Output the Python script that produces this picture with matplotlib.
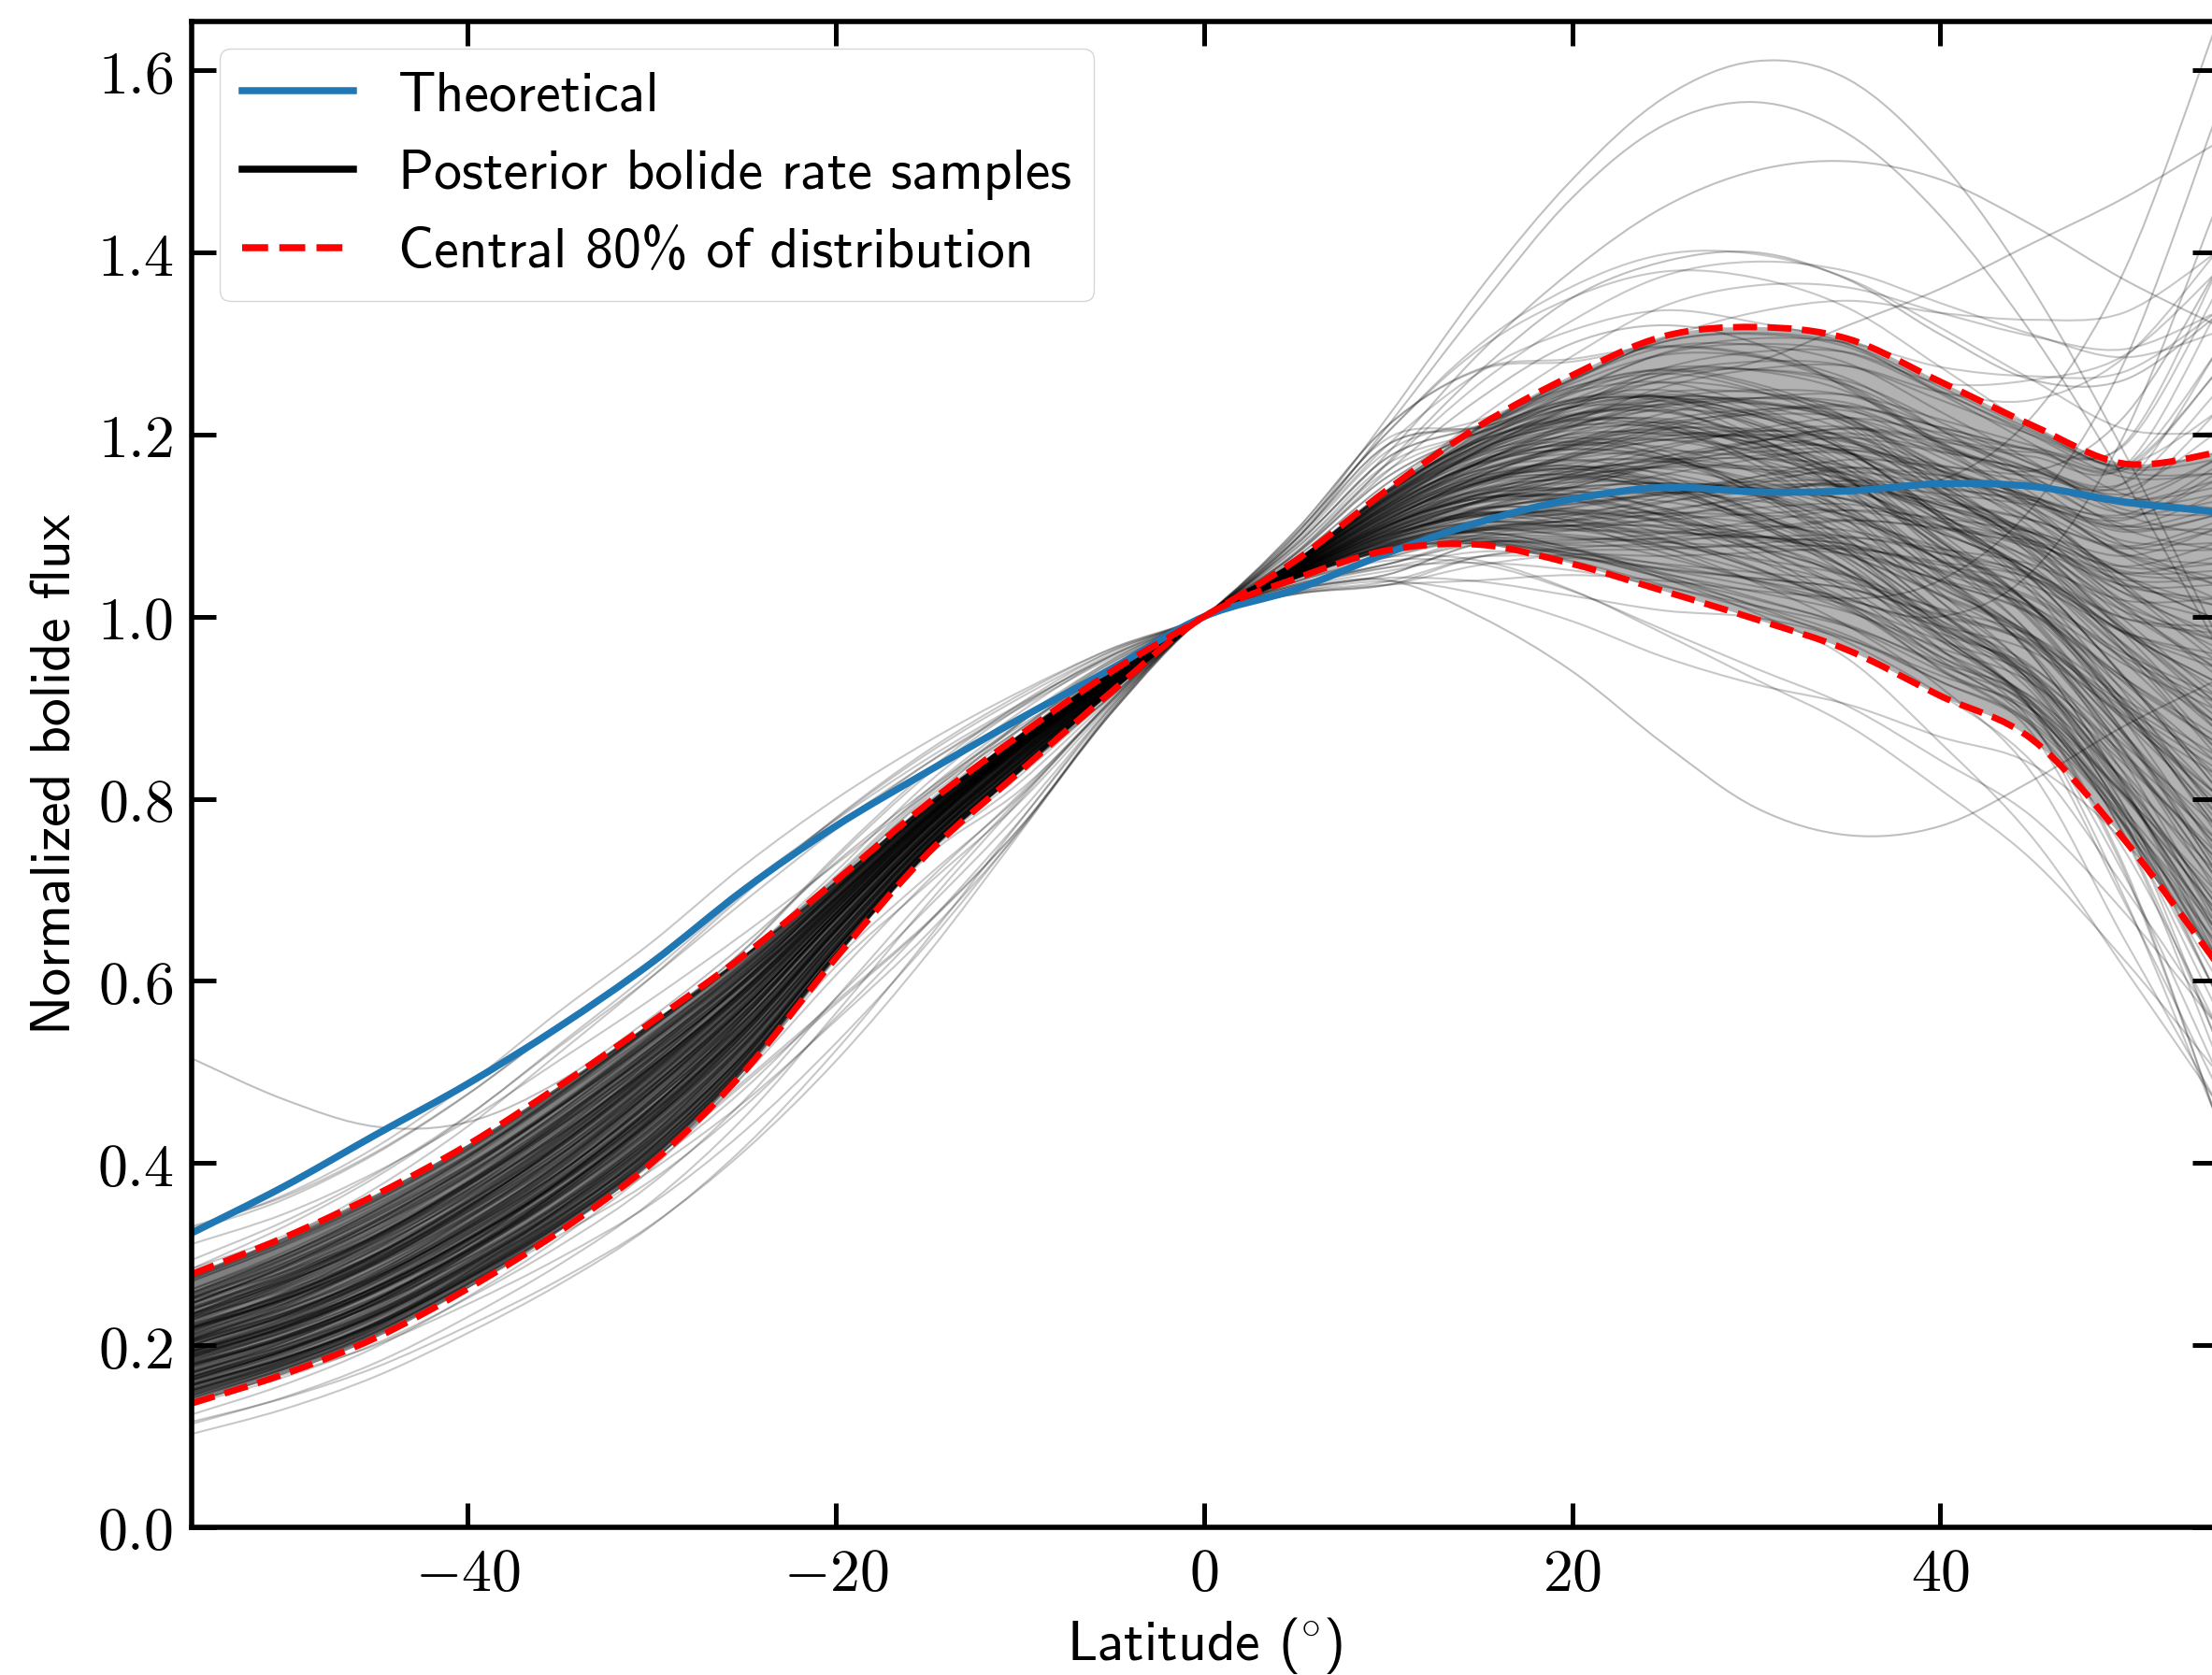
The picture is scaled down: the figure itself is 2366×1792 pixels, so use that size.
import numpy as np
import matplotlib
matplotlib.use("Agg")
import matplotlib.pyplot as plt
from matplotlib.lines import Line2D
from matplotlib.path import Path
from matplotlib.patches import PathPatch

plt.rcParams['mathtext.fontset'] = 'cm'

# latitude knots (deg)
lat = [-55, -50, -45, -40, -35, -30, -25, -20, -15, -10, -5, 0,
       5, 10, 15, 20, 25, 30, 35, 40, 45, 50, 55]

# theoretical curve
theory = [0.323, 0.374, 0.431, 0.487, 0.55, 0.62, 0.70, 0.77, 0.83, 0.888, 0.943, 1.0,
          1.03, 1.07, 1.104, 1.129, 1.142, 1.137, 1.138, 1.146, 1.143, 1.126, 1.115]

# quantile curves of the posterior samples
quant_p = [0.02, 0.12, 0.50, 0.88, 0.98]
q_lo = [0.075, 0.10, 0.135, 0.18, 0.23, 0.29, 0.37, 0.47, 0.60, 0.75, 0.895, 1.0,
        1.025, 1.035, 1.01, 0.965, 0.90, 0.84, 0.79, 0.72, 0.64, 0.55, 0.45]
q10 = [0.136, 0.168, 0.208, 0.262, 0.325, 0.40, 0.50, 0.625, 0.74, 0.83, 0.918, 1.0,
       1.042, 1.073, 1.079, 1.058, 1.028, 0.997, 0.963, 0.913, 0.865, 0.755, 0.62]
q50 = [0.20, 0.232, 0.275, 0.33, 0.395, 0.475, 0.565, 0.67, 0.77, 0.855, 0.93, 1.0,
       1.052, 1.105, 1.145, 1.165, 1.17, 1.16, 1.14, 1.095, 1.045, 0.965, 0.89]
q90 = [0.278, 0.318, 0.365, 0.42, 0.485, 0.555, 0.628, 0.71, 0.795, 0.87, 0.94, 1.0,
       1.062, 1.14, 1.21, 1.265, 1.308, 1.318, 1.305, 1.258, 1.21, 1.168, 1.18]
q_hi = [0.375, 0.40, 0.45, 0.52, 0.60, 0.67, 0.75, 0.815, 0.87, 0.92, 0.965, 1.0,
        1.095, 1.21, 1.32, 1.40, 1.45, 1.465, 1.45, 1.42, 1.39, 1.37, 1.40]

# percentile positions of the drawn samples
pct_south = [0.02, 0.03, 0.05, 0.07, 0.08, 0.10, 0.12, 0.13, 0.15, 0.17, 0.18, 0.20,
             0.21, 0.23, 0.25, 0.26, 0.28, 0.30, 0.31, 0.33, 0.35, 0.36, 0.38, 0.39,
             0.41, 0.43, 0.44, 0.46, 0.48, 0.49, 0.51, 0.52, 0.54, 0.56, 0.57, 0.59,
             0.61, 0.62, 0.64, 0.66, 0.67, 0.69, 0.70, 0.72, 0.74, 0.75, 0.77, 0.79,
             0.80, 0.82, 0.84, 0.85, 0.87, 0.89, 0.90, 0.92, 0.93, 0.95, 0.97, 0.98]
pct_north = [0.41, 0.13, 0.77, 0.26, 0.59, 0.05, 0.90, 0.33, 0.69, 0.18, 0.52, 0.84,
             0.08, 0.46, 0.72, 0.28, 0.95, 0.38, 0.61, 0.15, 0.80, 0.03, 0.55, 0.87,
             0.21, 0.66, 0.43, 0.11, 0.74, 0.31, 0.92, 0.49, 0.17, 0.62, 0.36, 0.82,
             0.07, 0.57, 0.25, 0.70, 0.45, 0.97, 0.12, 0.64, 0.34, 0.79, 0.02, 0.53,
             0.88, 0.23, 0.67, 0.39, 0.10, 0.76, 0.29, 0.94, 0.48, 0.19, 0.85, 0.58]
pct_far = [0.64, 0.22, 0.51, 0.87, 0.09, 0.73, 0.35, 0.96, 0.16, 0.58, 0.81, 0.27,
           0.44, 0.04, 0.69, 0.91, 0.32, 0.55, 0.12, 0.78, 0.40, 0.67, 0.19, 0.85,
           0.47, 0.06, 0.93, 0.29, 0.61, 0.37, 0.14, 0.75, 0.53, 0.83, 0.24, 0.98,
           0.42, 0.10, 0.71, 0.57, 0.30, 0.89, 0.17, 0.49, 0.79, 0.02, 0.63, 0.38,
           0.95, 0.20, 0.52, 0.08, 0.86, 0.33, 0.70, 0.45, 0.13, 0.77, 0.26, 0.60]

# stray samples that stand out from the bundle
outliers = [
    [0.515, 0.47, 0.44, 0.445, 0.49, 0.56, 0.64, 0.73, 0.81, 0.88, 0.94, 1.0,
     1.05, 1.10, 1.14, 1.16, 1.17, 1.16, 1.14, 1.10, 1.05, 0.97, 0.89],
    [0.20, 0.232, 0.272, 0.325, 0.39, 0.47, 0.565, 0.67, 0.77, 0.855, 0.93, 1.0,
     1.09, 1.22, 1.36, 1.48, 1.57, 1.61, 1.59, 1.50, 1.36, 1.18, 0.98],
    [0.25, 0.28, 0.32, 0.38, 0.45, 0.52, 0.60, 0.69, 0.78, 0.86, 0.93, 1.0,
     1.085, 1.21, 1.34, 1.46, 1.54, 1.565, 1.53, 1.44, 1.31, 1.15, 0.97],
    [0.17, 0.20, 0.24, 0.30, 0.37, 0.45, 0.55, 0.66, 0.76, 0.85, 0.93, 1.0,
     1.08, 1.18, 1.29, 1.38, 1.45, 1.49, 1.50, 1.48, 1.43, 1.37, 1.32],
    [0.22, 0.25, 0.29, 0.35, 0.42, 0.50, 0.59, 0.69, 0.78, 0.86, 0.93, 1.0,
     1.06, 1.12, 1.17, 1.20, 1.20, 1.18, 1.15, 1.15, 1.22, 1.38, 1.65],
    [0.15, 0.18, 0.22, 0.28, 0.35, 0.43, 0.53, 0.64, 0.75, 0.85, 0.93, 1.0,
     1.06, 1.13, 1.19, 1.23, 1.26, 1.28, 1.32, 1.36, 1.41, 1.46, 1.52],
    [0.19, 0.22, 0.26, 0.31, 0.38, 0.46, 0.56, 0.67, 0.77, 0.86, 0.93, 1.0,
     1.03, 1.04, 1.00, 0.94, 0.86, 0.79, 0.76, 0.77, 0.82, 0.88, 0.93],
    [0.24, 0.27, 0.31, 0.37, 0.44, 0.51, 0.60, 0.70, 0.79, 0.87, 0.94, 1.0,
     1.05, 1.10, 1.13, 1.13, 1.11, 1.07, 1.02, 1.00, 1.05, 1.20, 1.45],
    [0.21, 0.24, 0.28, 0.34, 0.41, 0.49, 0.58, 0.68, 0.78, 0.86, 0.93, 1.0,
     1.07, 1.16, 1.24, 1.30, 1.32, 1.30, 1.25, 1.19, 1.16, 1.22, 1.38],
    [0.18, 0.21, 0.25, 0.31, 0.38, 0.46, 0.56, 0.67, 0.77, 0.86, 0.93, 1.0,
     1.05, 1.09, 1.11, 1.10, 1.07, 1.04, 1.02, 1.04, 1.12, 1.28, 1.55],
    [0.23, 0.26, 0.30, 0.36, 0.43, 0.51, 0.60, 0.70, 0.79, 0.87, 0.94, 1.0,
     1.07, 1.17, 1.27, 1.35, 1.39, 1.40, 1.37, 1.31, 1.26, 1.26, 1.33],
]

xticks = [-40, -20, 0, 20, 40]
yticks = [0.0, 0.2, 0.4, 0.6, 0.8, 1.0, 1.2, 1.4, 1.6]

Q = np.array([q_lo, q10, q50, q90, q_hi])


def sample_curve(us, un, uf):
    out = []
    for j, la in enumerate(lat):
        if la <= 0:
            t = 0.3 * np.clip((-la - 5) / 50.0, 0, 1)
            u = us * (1 - t) + uf * t
        else:
            t = np.clip((la - 10) / 45.0, 0, 1)
            u = un * (1 - t) + uf * t
        out.append(np.interp(u, quant_p, Q[:, j]))
    return out


def bezier_verts(xs, ys):
    # smooth curve through the knots (Catmull-Rom as cubic Bezier)
    pts = np.column_stack([xs, ys]).astype(float)
    n = len(pts)
    verts = [pts[0]]
    for i in range(n - 1):
        p0 = pts[i - 1] if i > 0 else pts[i]
        p1, p2 = pts[i], pts[i + 1]
        p3 = pts[i + 2] if i + 2 < n else pts[i + 1]
        verts += [p1 + (p2 - p0) / 6.0, p2 - (p3 - p1) / 6.0, p2]
    return verts


def smooth_line(ax, xs, ys, **kw):
    verts = bezier_verts(xs, ys)
    codes = [Path.MOVETO] + [Path.CURVE4] * (len(verts) - 1)
    ax.add_patch(PathPatch(Path(verts, codes), fill=False, **kw))


def smooth_band(ax, xs, lo, hi, **kw):
    top = bezier_verts(xs, hi)
    bot = bezier_verts(xs[::-1], lo[::-1])
    verts = top + bot + [top[0]]
    codes = ([Path.MOVETO] + [Path.CURVE4] * (len(top) - 1) +
             [Path.LINETO] + [Path.CURVE4] * (len(bot) - 1) + [Path.CLOSEPOLY])
    ax.add_patch(PathPatch(Path(verts, codes), lw=0, **kw))


fig = plt.figure(figsize=(23.66, 17.92), dpi=100)
ax = fig.add_axes([0.0866, 0.0882, 0.9154, 0.8992])

smooth_band(ax, lat[:12], q10[:12], q90[:12], facecolor='black', alpha=0.5)
smooth_band(ax, lat[11:], q10[11:], q90[11:], facecolor='black', alpha=0.3)

combos = (list(zip(pct_south, pct_north, pct_far)) +
          list(zip(pct_north, pct_far, pct_south)) +
          list(zip(pct_far, pct_south, pct_north)))
for us, un, uf in combos:
    smooth_line(ax, lat, sample_curve(us, un, uf), edgecolor='black', alpha=0.22, lw=1.5)
for curve in outliers:
    smooth_line(ax, lat, curve, edgecolor='black', alpha=0.25, lw=1.5)

smooth_line(ax, lat, theory, edgecolor='#1f77b4', lw=5.4)
smooth_line(ax, lat, q90, edgecolor='red', lw=5.0, ls='--')
smooth_line(ax, lat, q10, edgecolor='red', lw=5.0, ls='--')

ax.set_xlim(-55, 55)
ax.set_ylim(0, 1.654)
ax.set_xticks(xticks)
ax.set_xticklabels([r'$%d$' % v for v in xticks])
ax.set_yticks(yticks)
ax.set_yticklabels([r'$%.1f$' % v for v in yticks])
ax.tick_params(direction='in', top=True, right=True, length=18.7, width=3.6,
               labelsize=46, pad=14)
for sp in ax.spines.values():
    sp.set_linewidth(4)

ax.set_xlabel(r'Latitude ($\!^\circ\!$)', fontsize=43, family='cmss10', labelpad=9)
ax.set_ylabel('Normalized bolide flux', fontsize=43, family='cmss10', labelpad=12)

handles = [
    Line2D([], [], color='#1f77b4', lw=5.4),
    Line2D([], [], color='black', lw=5.4),
    Line2D([], [], color='red', lw=5.4, ls='--'),
]
labels = ['Theoretical', 'Posterior bolide rate samples', 'Central 80% of distribution']
ax.legend(handles, labels, loc='upper left', prop={'family': 'cmss10', 'size': 43})

fig.savefig('out.png', dpi=100)
